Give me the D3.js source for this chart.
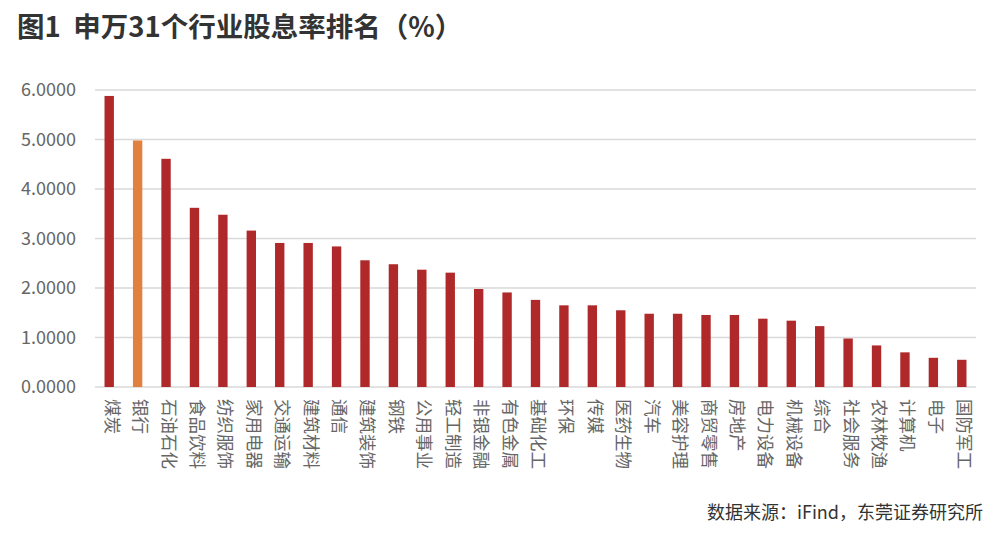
<!DOCTYPE html>
<html>
<head>
<meta charset="utf-8">
<script src="https://cdn.jsdelivr.net/npm/d3@7"></script>
<style>
  html, body { margin: 0; padding: 0; background: #fff; }
  svg { display: block; font-family: "Noto Sans CJK SC", "Noto Sans", sans-serif; }
</style>
</head>
<body>
<svg id="chart" width="1000" height="534"></svg>
<script>
const categories = ["煤炭","银行","石油石化","食品饮料","纺织服饰","家用电器","交通运输","建筑材料","通信","建筑装饰","钢铁","公用事业","轻工制造","非银金融","有色金属","基础化工","环保","传媒","医药生物","汽车","美容护理","商贸零售","房地产","电力设备","机械设备","综合","社会服务","农林牧渔","计算机","电子","国防军工"];
const values = [5.88,4.98,4.61,3.62,3.48,3.16,2.91,2.91,2.84,2.56,2.48,2.37,2.31,1.98,1.91,1.76,1.65,1.65,1.55,1.48,1.48,1.455,1.455,1.38,1.34,1.23,0.98,0.84,0.70,0.59,0.55];
const highlight = ["银行"];
const yTicks = [0,1,2,3,4,5,6];
const title = "图1  申万31个行业股息率排名（%）";
const source = "数据来源：iFind，东莞证券研究所";

(function () {
const svg = d3.select("#chart");
const mLeft = 95, mRight = 976, mTop = 90, mBottom = 387;

const x = d3.scaleBand().domain(categories).range([mLeft, mRight]).paddingInner(0.67).paddingOuter(0.335);
const y = d3.scaleLinear().domain([0, 6]).range([mBottom, mTop]);

// title
svg.append("text").attr("x", 17).attr("y", 37)
  .attr("font-size", 27.5).attr("font-weight", 700).attr("fill", "#333")
  .style("white-space", "pre")
  .text(title);

// grid
svg.append("g").selectAll("line").data(yTicks).join("line")
  .attr("x1", mLeft).attr("x2", mRight)
  .attr("y1", d => y(d)).attr("y2", d => y(d))
  .attr("stroke", "#d9d9d9").attr("stroke-width", 1.5);

// y axis labels
const yAxis = d3.axisLeft(y).tickValues(yTicks).tickFormat(d3.format(".4f")).tickSize(0).tickPadding(0);
const gy = svg.append("g").attr("transform", "translate(76,0)").call(yAxis);
gy.select(".domain").remove();
gy.selectAll("text").attr("font-size", 18).attr("fill", "#666")
  .attr("font-family", "'Noto Sans CJK SC', 'Noto Sans', sans-serif");

// bars
svg.append("g").selectAll("rect").data(categories).join("rect")
  .attr("x", d => x(d)).attr("width", x.bandwidth())
  .attr("y", (d, i) => y(values[i]))
  .attr("height", (d, i) => y(0) - y(values[i]))
  .attr("fill", d => highlight.includes(d) ? "#E0813F" : "#B0292A");

// x labels (rotated 90deg clockwise)
svg.append("g").selectAll("text").data(categories).join("text")
  .attr("transform", d => `translate(${x(d) + x.bandwidth()/2 + 4}, 399) rotate(90)`)
  .attr("text-anchor", "start").attr("dominant-baseline", "central")
  .attr("font-size", 17.5).attr("fill", "#666")
  .text(d => d);

// source
svg.append("text").attr("x", 983).attr("y", 519).attr("text-anchor", "end")
  .attr("font-size", 18).attr("fill", "#333")
  .text(source);
})();
</script>
</body>
</html>
